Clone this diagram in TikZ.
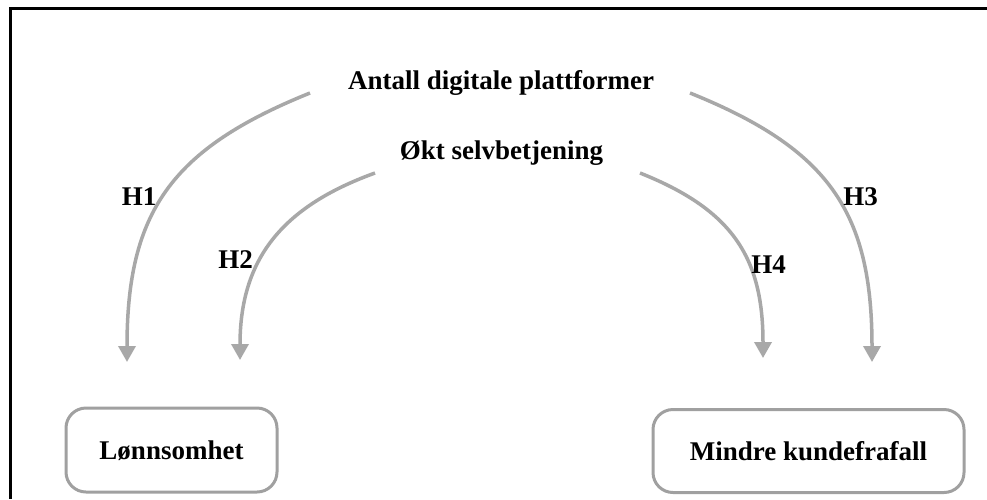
\documentclass[tikz,border=0pt]{standalone}
\usepackage{fontspec}
\setmainfont{Liberation Serif}
\usetikzlibrary{arrows.meta}
\definecolor{linkgray}{RGB}{168,168,168}
\definecolor{boxgray}{RGB}{160,160,160}
\tikzset{
  lbl/.style={font=\fontsize{27}{30}\selectfont\bfseries, inner sep=0pt, anchor=base},
  outcome/.style={draw=boxgray, line width=3pt, rounded corners=20pt, fill=white,
    font=\fontsize{27}{30}\selectfont\bfseries, text height=18pt, text depth=0pt,
    inner sep=0pt, align=center},
  link/.style={draw=linkgray, line width=3.5pt,
    -{Triangle[width=17pt,length=16pt]}},
}
\begin{document}
\begin{tikzpicture}[x=1pt, y=-1pt]
\useasboundingbox (0,0) rectangle (987,499);
% white page background
\fill[white] (0,0) rectangle (987,499);
% frame along the top and left edge, as two solid bars
\fill[black] (9,7.2) rectangle (12,499);
\fill[black] (9,7.2) rectangle (987,10.2);

% drivers
\node[lbl] (antall) at (501,89) {Antall digitale plattformer};
\node[lbl] (okt) at (501.5,159) {Økt selvbetjening};

% outcomes
\node[outcome, minimum width=211pt, minimum height=84pt] (lonn) at (171.5,450) {Lønnsomhet};
\node[outcome, minimum width=311pt, minimum height=83pt] (kunde) at (808.5,451) {Mindre kundefrafall};

% arrow end points
\coordinate (s1) at (310,93);
\coordinate (e1) at (127,362);
\coordinate (s2) at (375,173);
\coordinate (e2) at (240,360);
\coordinate (s3) at (690,93);
\coordinate (e3) at (872,362);
\coordinate (s4) at (640,173);
\coordinate (e4) at (763,358);

% hypothesis arrows
\draw[link] (s1) .. controls (171,149) and (127,212) .. (e1);
\draw[link] (s2) .. controls (281,207) and (240,260) .. (e2);
\draw[link] (s3) .. controls (829,149) and (872,212) .. (e3);
\draw[link] (s4) .. controls (733,210) and (763,258) .. (e4);

% hypothesis labels
\node[lbl] (h1) at (139,205) {H1};
\node[lbl] (h2) at (235.5,268) {H2};
\node[lbl] (h3) at (860.5,205) {H3};
\node[lbl] (h4) at (768.5,273) {H4};
\end{tikzpicture}
\end{document}
